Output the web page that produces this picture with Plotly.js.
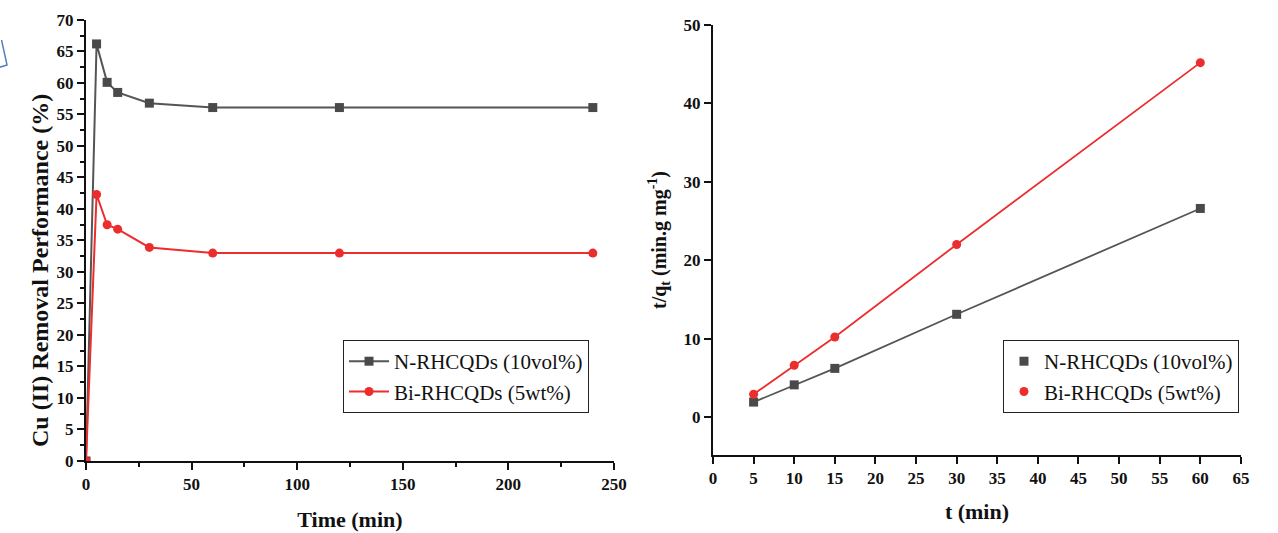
<!DOCTYPE html>
<html>
<head>
<meta charset="utf-8">
<script src="https://cdn.plot.ly/plotly-3.0.1.min.js"></script>
<style>
  html, body { margin: 0; padding: 0; background: #fff; }
  #chart { width: 1278px; height: 533px; }
</style>
</head>
<body>
<div id="chart"></div>
<script>
// Removal performance over time
const timeMin = [0, 5, 10, 15, 30, 60, 120, 240];
const removalN = [0, 66.2, 60.1, 58.5, 56.8, 56.1, 56.1, 56.1];
const removalBi = [0, 42.3, 37.5, 36.8, 33.9, 33.0, 33.0, 33.0];

// Pseudo-second-order kinetics: t/qt vs t
const tKin = [5, 10, 15, 30, 60];
const tqN = [1.9, 4.1, 6.2, 13.1, 26.6];
const tqBi = [2.9, 6.6, 10.2, 22.0, 45.2];

const nameN = 'N-RHCQDs (10vol%)';
const nameBi = 'Bi-RHCQDs (5wt%)';
const leftYTitle = 'Cu (II) Removal Performance (%)';

const grey = '#4a4a4a';
const red = '#ec2d2d';
const serif = 'Liberation Serif, Times New Roman, serif';

const traces = [
  {x: timeMin, y: removalN, name: nameN, mode: 'lines+markers', xaxis: 'x', yaxis: 'y', legend: 'legend',
   line: {color: '#555', width: 2}, marker: {symbol: 'square', size: 9, color: grey}},
  {x: timeMin, y: removalBi, name: nameBi, mode: 'lines+markers', xaxis: 'x', yaxis: 'y', legend: 'legend',
   line: {color: red, width: 2}, marker: {symbol: 'circle', size: 9, color: red}},
  {x: tKin, y: tqN, mode: 'lines', xaxis: 'x2', yaxis: 'y2', showlegend: false, hoverinfo: 'skip',
   line: {color: '#555', width: 1.8}},
  {x: tKin, y: tqBi, mode: 'lines', xaxis: 'x2', yaxis: 'y2', showlegend: false, hoverinfo: 'skip',
   line: {color: red, width: 1.8}},
  {x: tKin, y: tqN, name: nameN, mode: 'markers', xaxis: 'x2', yaxis: 'y2', legend: 'legend2',
   marker: {symbol: 'square', size: 9, color: grey}},
  {x: tKin, y: tqBi, name: nameBi, mode: 'markers', xaxis: 'x2', yaxis: 'y2', legend: 'legend2',
   marker: {symbol: 'circle', size: 9, color: red}}
];

const tickFont = {family: serif, size: 17, color: '#111', weight: 'bold'};
const xTitleFont = {family: serif, size: 22, color: '#111', weight: 'bold'};
const axisBase = {
  showgrid: false, zeroline: false, showline: true, linecolor: '#111', linewidth: 2,
  ticks: 'outside', ticklen: 7, tickwidth: 2, tickcolor: '#111', tickfont: tickFont, mirror: false
};

const layout = {
  width: 1278, height: 533,
  margin: {l: 0, r: 0, t: 0, b: 0},
  paper_bgcolor: '#fff', plot_bgcolor: '#fff',
  font: {family: serif},
  xaxis: Object.assign({}, axisBase, {
    domain: [0.0673, 0.4804], range: [0, 250], dtick: 50, anchor: 'y',
    minor: {dtick: 25, ticks: 'outside', ticklen: 4, tickwidth: 2, tickcolor: '#111'},
    title: {text: 'Time (min)', font: xTitleFont, standoff: 18}
  }),
  yaxis: Object.assign({}, axisBase, {
    domain: [0.1351, 0.9625], range: [0, 70], dtick: 5, anchor: 'x',
    minor: {dtick: 2.5, ticks: 'outside', ticklen: 4, tickwidth: 2, tickcolor: '#111'}
  }),
  xaxis2: Object.assign({}, axisBase, {
    domain: [0.5579, 0.9710], range: [0, 65], dtick: 5, anchor: 'y2',
    title: {text: 't (min)', font: xTitleFont, standoff: 16}
  }),
  yaxis2: Object.assign({}, axisBase, {
    domain: [0.1463, 0.9531], range: [-4.85, 50], tick0: 0, dtick: 10, anchor: 'x2',
    title: {text: 't/q<sub>t</sub> (min.g mg<sup>-1</sup>)',
            font: {family: serif, size: 20, color: '#111', weight: 'bold'}, standoff: 12}
  }),
  annotations: [
    {text: leftYTitle, textangle: -90, xref: 'paper', yref: 'paper',
     x: 0.0313, y: 0.4916, xanchor: 'center', yanchor: 'middle', showarrow: false,
     font: {family: serif, size: 24, color: '#111', weight: 'bold'}}
  ],
  legend: {
    x: 0.2684, y: 0.362, xanchor: 'left', yanchor: 'top',
    bordercolor: '#222', borderwidth: 1, bgcolor: '#fff',
    font: {family: serif, size: 21, color: '#111'}, itemwidth: 40, tracegroupgap: 0
  },
  legend2: {
    x: 0.7848, y: 0.362, xanchor: 'left', yanchor: 'top',
    bordercolor: '#222', borderwidth: 1, bgcolor: '#fff',
    font: {family: serif, size: 21, color: '#111'}, tracegroupgap: 0
  },
  shapes: [
    {type: 'path', xref: 'paper', yref: 'paper',
     path: 'M 0.0012 0.925 L 0.0055 0.878 L 0.0 0.874',
     line: {color: '#5a7fc4', width: 1.5}}
  ],
  showlegend: true
};

Plotly.newPlot('chart', traces, layout, {displayModeBar: false, staticPlot: true});
</script>
</body>
</html>
